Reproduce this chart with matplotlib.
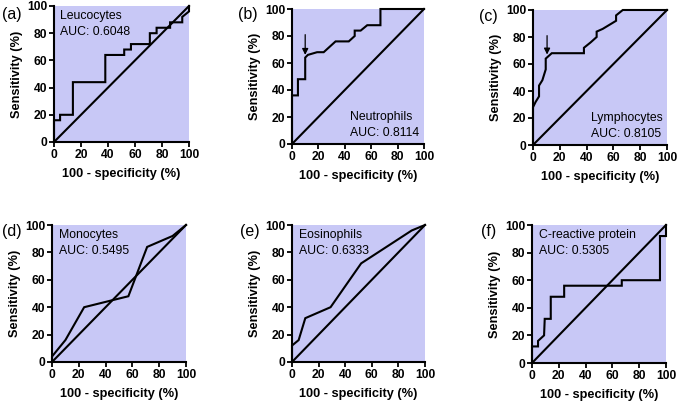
import matplotlib
matplotlib.use("Agg")
import matplotlib.pyplot as plt

plt.rcParams['font.family'] = ['Liberation Sans', 'DejaVu Sans']

# ROC curves: (100 - specificity, sensitivity) in %
leuco_x = [0, 0, 4.5, 4.5, 14, 14, 38, 38, 52, 52, 57, 57, 71, 71, 76, 76, 86, 86, 95, 95, 100, 100]
leuco_y = [0, 16, 16, 20, 20, 44, 44, 64, 64, 68, 68, 72, 72, 80, 80, 84, 84, 88, 88, 92, 96, 100]

neutro_x = [0, 0, 4.5, 4.5, 10, 10, 12, 19, 24, 33, 43, 47.5, 47.5, 52, 57, 67, 67, 100]
neutro_y = [0, 36, 36, 48, 48, 64, 66, 68, 68, 76, 76, 80, 84, 84, 88, 88, 100, 100]

lympho_x = [0, 0, 2, 4.5, 4.5, 7, 9.5, 9.5, 14, 38, 38, 43, 47.5, 47.5, 52, 62, 62, 67, 100]
lympho_y = [0, 28, 32, 36, 44, 48, 56, 64, 68, 68, 72, 76, 80, 84, 86, 92, 96, 100, 100]

mono_x = [0, 0, 10, 24, 57, 71, 90, 100]
mono_y = [0, 4, 16, 40, 48, 84, 92, 100]

eosino_x = [0, 0, 5, 10, 29, 52, 90, 100]
eosino_y = [0, 12, 16, 32, 40, 72, 96, 100]

crp_x = [0, 0, 4.5, 4.5, 9, 9.5, 14, 14, 24, 24, 67, 67, 95.5, 95.5, 100, 100]
crp_y = [0, 12, 12, 16, 20, 32, 32, 48, 48, 56, 56, 60, 60, 92, 92, 100]

names = ["Leucocytes", "Neutrophils", "Lymphocytes", "Monocytes", "Eosinophils", "C-reactive protein"]
aucs = ["0.6048", "0.8114", "0.8105", "0.5495", "0.6333", "0.5305"]
letters = ["(a)", "(b)", "(c)", "(d)", "(e)", "(f)"]
curves = [(leuco_x, leuco_y), (neutro_x, neutro_y), (lympho_x, lympho_y),
          (mono_x, mono_y), (eosino_x, eosino_y), (crp_x, crp_y)]
ticks = [0, 20, 40, 60, 80, 100]

W, H = 678, 404
# axes boxes in pixels: left, right, top, bottom
boxes = [(54, 189, 6, 142), (292, 424, 9, 144), (533, 667, 10, 145),
         (52, 186, 225, 362), (292, 425, 225, 362), (532, 666, 225, 363)]
label_pos = [(2, 15), (238, 15), (479, 16), (2, 232), (240, 232), (481, 232)]
text_pos = [(4.5, 'top'), (44, 'bottom'), (43, 'bottom'), (5, 'top'), (5, 'top'), (5, 'top')]
arrows = {1: (10, 81, 66), 2: (10.5, 81, 67)}

fig = plt.figure(figsize=(W / 100, H / 100), dpi=100)
bg = '#c8c8f6'

for i, (l, r, t, b) in enumerate(boxes):
    ax = fig.add_axes([l / W, 1 - b / H, (r - l) / W, (b - t) / H])
    ax.set_facecolor(bg)
    x, y = curves[i]
    ax.plot([0, 100], [0, 100], color='black', lw=1.5, clip_on=False)
    ax.plot(x, y, color='black', lw=1.5, clip_on=False, solid_joinstyle='miter')
    ax.set_xlim(0, 100)
    ax.set_ylim(0, 100)
    ax.set_xticks(ticks)
    ax.set_yticks(ticks)
    for s in ['top', 'right']:
        ax.spines[s].set_visible(False)
    for s in ['left', 'bottom']:
        ax.spines[s].set_linewidth(1.5)
    ax.tick_params(direction='out', length=3.5, width=1.3, labelsize=8.7, pad=1.5)
    for lab in ax.get_xticklabels() + ax.get_yticklabels():
        lab.set_fontweight('bold')
    ax.set_xlabel("100 - specificity (%)", fontsize=9.2, fontweight='bold', labelpad=5)
    ax.set_ylabel("Sensitivity (%)", fontsize=9.2, fontweight='bold', labelpad=3)

    tx, where = text_pos[i]
    if where == 'top':
        ax.text(tx, 93, names[i], fontsize=8.8, va='center', ha='left')
        ax.text(tx, 81, "AUC: " + aucs[i], fontsize=8.8, va='center', ha='left')
    else:
        ax.text(tx, 20, names[i], fontsize=8.8, va='center', ha='left')
        ax.text(tx, 8.5, "AUC: " + aucs[i], fontsize=8.8, va='center', ha='left')

    if i in arrows:
        axx, y0, y1 = arrows[i]
        ax.annotate("", xy=(axx, y1), xytext=(axx, y0),
                    arrowprops=dict(arrowstyle='-|>', color='black', lw=0.9,
                                    mutation_scale=9, shrinkA=0, shrinkB=0))

    px, py = label_pos[i]
    fig.text(px / W, 1 - py / H, letters[i], fontsize=11.5, ha='left', va='center')

fig.savefig("out.png", dpi=100)
